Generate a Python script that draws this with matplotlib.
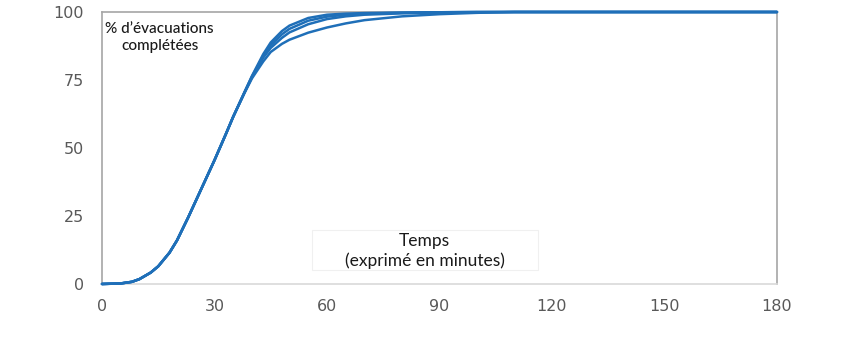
import matplotlib.pyplot as plt
from matplotlib.patches import Rectangle

# time in minutes
minutes = [0, 5, 8, 10, 13, 15, 18, 20, 23, 25, 28, 30, 33, 35, 38, 40,
           43, 45, 48, 50, 55, 60, 65, 70, 80, 90, 100, 110, 120, 150, 180]

# % of evacuations completed, four scenarios
serie_a = [0, 0.2, 0.8, 1.8, 4.2, 6.5, 11.5, 16, 24.5, 30.5, 39.5, 45.5, 55, 61.5, 70.5, 76.5,
           84.5, 88.8, 93, 95, 97.8, 99, 99.4, 99.6, 99.8, 99.9, 100, 100, 100, 100, 100]
serie_b = [0, 0.2, 0.8, 1.8, 4.2, 6.5, 11.5, 16, 24.5, 30.5, 39.5, 45.5, 55, 61.5, 70.5, 76.3,
           83.8, 87.8, 91.8, 93.8, 96.8, 98.3, 99, 99.4, 99.7, 99.9, 100, 100, 100, 100, 100]
serie_c = [0, 0.2, 0.8, 1.8, 4.2, 6.5, 11.5, 16, 24.5, 30.5, 39.5, 45.5, 55, 61.5, 70.3, 76,
           83.2, 86.8, 90.5, 92.5, 95.5, 97.4, 98.4, 99, 99.5, 99.8, 99.9, 100, 100, 100, 100]
serie_d = [0, 0.2, 0.8, 1.8, 4.2, 6.5, 11.5, 16, 24.5, 30.5, 39.5, 45.5, 55, 61.5, 70.2, 75.6,
           81.8, 85.3, 88.3, 89.8, 92.4, 94.3, 95.8, 97, 98.4, 99.2, 99.7, 100, 100, 100, 100]

x_ticks = [0, 30, 60, 90, 120, 150, 180]
y_ticks = [0, 25, 50, 75, 100]

line_color = "#1f6fb8"

fig = plt.figure(figsize=(8.42, 3.38), dpi=100)
ax = fig.add_axes([0.1211, 0.1598, 0.8017, 0.8047])

for serie in (serie_a, serie_b, serie_c, serie_d):
    ax.plot(minutes, serie, color=line_color, lw=1.8, solid_capstyle="round",
            solid_joinstyle="round", clip_on=False, zorder=3)

ax.set_xlim(0, 180)
ax.set_ylim(0, 100)
ax.set_xticks(x_ticks)
ax.set_yticks(y_ticks)
ax.tick_params(axis="both", length=0, labelsize=11.5, labelcolor="#595959")
ax.tick_params(axis="y", pad=13)
ax.tick_params(axis="x", pad=11)

for side in ("left", "right", "top"):
    ax.spines[side].set_color("#a6a6a6")
    ax.spines[side].set_linewidth(1.2)
ax.spines["bottom"].set_color("#d9d9d9")
ax.spines["bottom"].set_linewidth(1.2)

ax.text(0.005, 0.965, "% d\u2019évacuations\ncomplétées", transform=ax.transAxes,
        ha="left", va="top", fontsize=11, color="#1a1a1a", multialignment="center",
        family="Lato", fontweight="medium", linespacing=1.3)

# faint box behind the x-axis title
ax.add_patch(Rectangle((0.311, 0.051), 0.335, 0.148, transform=ax.transAxes,
                       fc="white", ec="#f0f0f0", lw=0.8, zorder=2))
ax.text(0.478, 0.121, "Temps\n(exprimé en minutes)", transform=ax.transAxes,
        ha="center", va="center", fontsize=12.5, color="#1a1a1a", family="Lato",
        linespacing=1.25, zorder=4)

fig.savefig("out.png", dpi=100)
